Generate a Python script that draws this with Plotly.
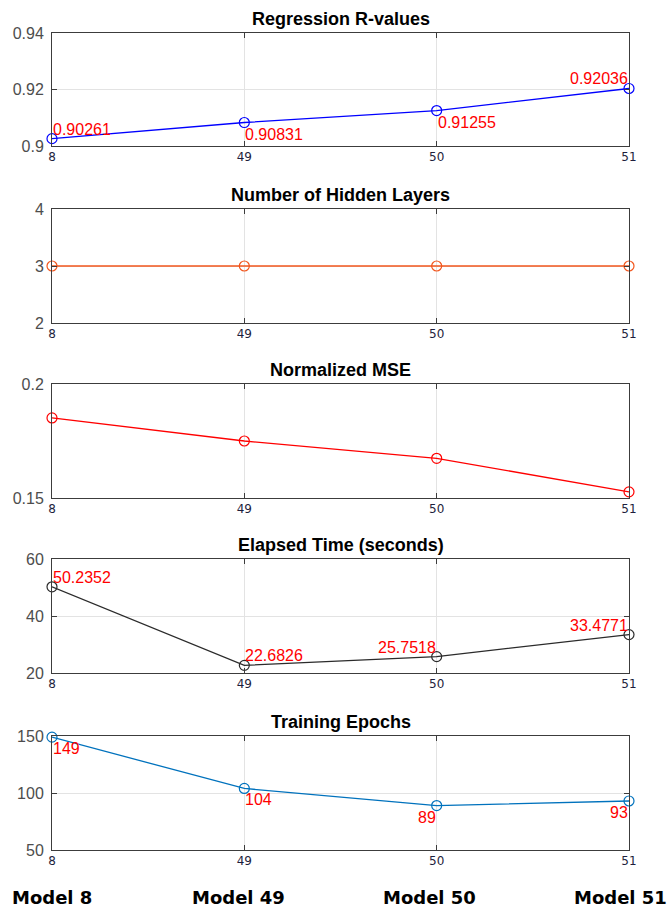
import plotly.graph_objects as go

# ---- data ----
models = ["8", "49", "50", "51"]
model_names = ["Model 8", "Model 49", "Model 50", "Model 51"]
r_values = [0.90261, 0.90831, 0.91255, 0.92036]
hidden_layers = [3, 3, 3, 3]
norm_mse = [0.1851, 0.1750, 0.1674, 0.1527]
elapsed = [50.2352, 22.6826, 25.7518, 33.4771]
epochs = [149, 104, 89, 93]

titles = ["Regression R-values", "Number of Hidden Layers", "Normalized MSE",
          "Elapsed Time (seconds)", "Training Epochs"]
series = [r_values, hidden_layers, norm_mse, elapsed, epochs]
colors = ["#0000FF", "#F2561D", "#FF0000", "#2B2B2B", "#0072BD"]
yranges = [[0.9, 0.94], [2, 4], [0.15, 0.2], [20, 60], [50, 150]]
yticks = [[0.9, 0.92, 0.94], [2, 3, 4], [0.15, 0.2], [20, 40, 60], [50, 100, 150]]
yticktext = [["0.9", "0.92", "0.94"], ["2", "3", "4"], ["0.15", "0.2"],
             ["20", "40", "60"], ["50", "100", "150"]]

label_texts = [
    ["0.90261", "0.90831", "0.91255", "0.92036"],
    None,
    None,
    ["50.2352", "22.6826", "25.7518", "33.4771"],
    ["149", "104", "89", "93"],
]
label_anchor = [
    [("left", "bottom"), ("left", "top"), ("left", "top"), ("right", "bottom")],
    None,
    None,
    [("left", "bottom"), ("left", "bottom"), ("right", "bottom"), ("right", "bottom")],
    [("left", "top"), ("left", "top"), ("right", "top"), ("right", "top")],
]

H = 911
W = 667
panel_px = [(33, 146), (209, 323), (384, 498), (559, 673), (736, 850)]

fig = go.Figure()
xs = list(range(len(models)))

for i in range(5):
    ax = "" if i == 0 else str(i + 1)
    fig.add_trace(go.Scatter(
        x=xs, y=series[i], mode="lines+markers",
        line=dict(color=colors[i], width=1.3),
        marker=dict(symbol="circle-open", size=10, color=colors[i], line=dict(width=1.2)),
        cliponaxis=False, showlegend=False, hoverinfo="skip",
        xaxis="x" + ax, yaxis="y" + ax,
    ))
    top, bot = panel_px[i]
    dom = [1 - bot / H, 1 - top / H]
    fig.layout["xaxis" + ax] = dict(
        domain=[0, 1], range=[0, 3], anchor="y" + ax,
        tickvals=xs, ticktext=models,
        tickfont=dict(family="DejaVu Sans", size=12, color="#1E1E3C"),
        showgrid=True, gridcolor="#E3E3E3", gridwidth=1,
        showline=True, linecolor="#3C3C3C", linewidth=1, mirror="ticks",
        ticks="inside", ticklen=5, tickcolor="#3C3C3C", zeroline=False,
        automargin=False, fixedrange=True,
    )
    fig.layout["yaxis" + ax] = dict(
        domain=dom, range=yranges[i], anchor="x" + ax,
        tickvals=yticks[i], ticktext=yticktext[i],
        tickfont=dict(family="Liberation Sans", size=16, color="#4D4D4D"),
        showgrid=True, gridcolor="#E3E3E3", gridwidth=1,
        showline=True, linecolor="#3C3C3C", linewidth=1, mirror="ticks",
        ticks="inside", ticklen=5, tickcolor="#3C3C3C", zeroline=False,
        ticklabelstandoff=4, automargin=False, fixedrange=True,
    )
    fig.add_annotation(
        text="<b>%s</b>" % titles[i], xref="paper", yref="paper",
        x=0.5, y=dom[1], xanchor="center", yanchor="bottom", yshift=2,
        showarrow=False, font=dict(family="Liberation Sans", size=18, color="#000000"),
    )
    if label_texts[i]:
        for j, t in enumerate(label_texts[i]):
            xa, ya = label_anchor[i][j]
            fig.add_annotation(
                text=t, xref="x" + ax, yref="y" + ax, x=xs[j], y=series[i][j],
                xanchor=xa, yanchor=ya, showarrow=False,
                yshift=(-2 if ya == "top" else 0),
                font=dict(family="Liberation Sans", size=16, color="#FF0000"),
                borderpad=0,
            )

name_shift = [0, -6, -7, -9]
for j, nm in enumerate(model_names):
    fig.add_annotation(
        text="<b>%s</b>" % nm, xref="x5", yref="paper", x=xs[j], y=1 - 897 / H,
        xanchor="center", yanchor="middle", xshift=name_shift[j], showarrow=False,
        font=dict(family="DejaVu Sans", size=18, color="#000000"),
    )

fig.update_layout(
    width=W, height=H, margin=dict(l=52, r=38, t=0, b=0, autoexpand=False),
    paper_bgcolor="white", plot_bgcolor="white",
)

fig.write_html("out.html")
